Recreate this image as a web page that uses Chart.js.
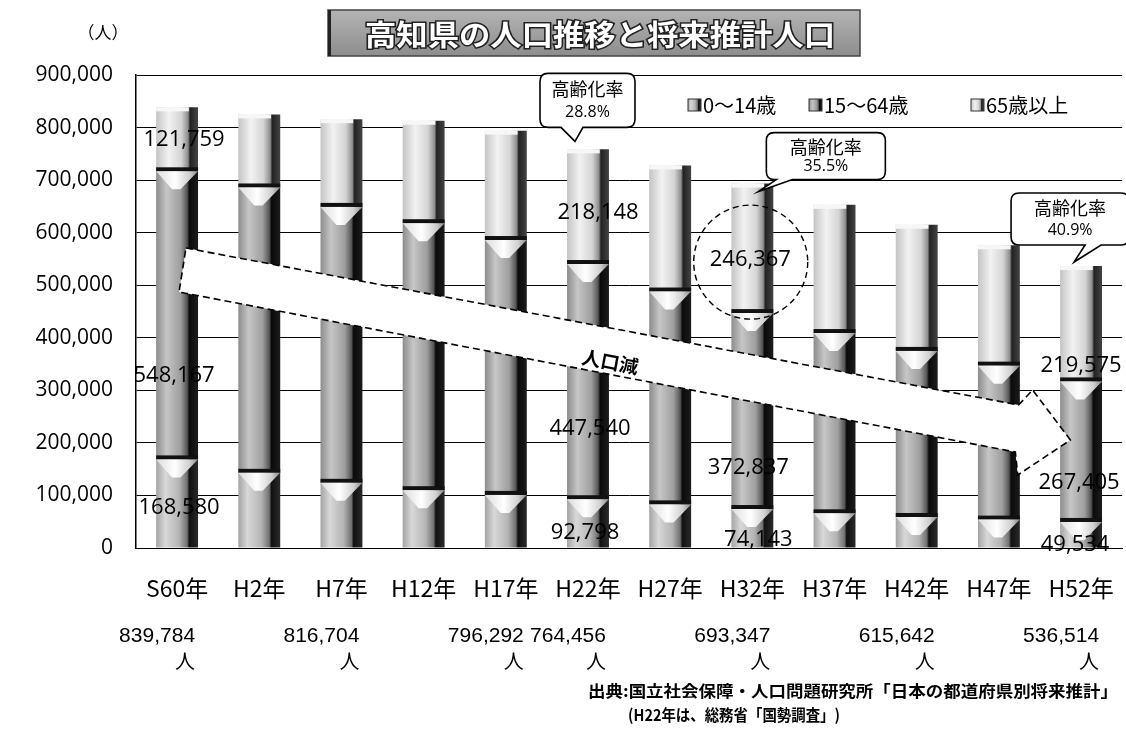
<!DOCTYPE html>
<html lang="ja">
<head>
<meta charset="utf-8">
<title>高知県の人口推移と将来推計人口</title>
<script src="https://cdn.jsdelivr.net/npm/chart.js@4.4.1/dist/chart.umd.min.js"></script>
<style>
  html, body { margin: 0; padding: 0; background: #fff; overflow: hidden; }
  #wrap { width: 1140px; height: 731px; }
</style>
</head>
<body>
<div id="wrap"><canvas id="popChart" width="1140" height="731"></canvas></div>
<script>
// categories and values (人)
const years = ['S60年', 'H2年', 'H7年', 'H12年', 'H17年', 'H22年', 'H27年', 'H32年', 'H37年', 'H42年', 'H47年', 'H52年'];
const age0to14  = [168580, 143000, 124000, 110000, 101000, 92798, 83000, 74143, 66000, 59000, 54000, 49534];
const age15to64 = [548167, 543000, 525000, 508000, 485000, 447540, 405000, 372837, 343000, 316000, 293000, 267405];
const age65plus = [121759, 139000, 167000, 195000, 208000, 218148, 240000, 246367, 244000, 240000, 229000, 219575];
const totals    = [839784, null, 816704, null, 796292, 764456, null, 693347, null, 615642, null, 536514];
const yTicks    = [0, 100000, 200000, 300000, 400000, 500000, 600000, 700000, 800000, 900000];
const seriesNames = ['0～14歳', '15～64歳', '65歳以上'];

// 高齢化率 callouts
const agingIdx  = [5, 7, 11];
const agingRate = ['28.8%', '35.5%', '40.9%'];

// bars that carry value labels
const labeledBars = [0, 5, 7, 11];

// label placement inside segments (fraction of segment height, x shift) – layout only
const labelFrac = [[0.45, 0.29, 0.5], [0.31, 0.30, 0.45], [0.2, 0.21, 0.41], [0.11, 0.28, 0.14]];
const labelDx   = [[2, -3, 7], [-3, 2, 10], [6, -4, -2], [-6, -2, 0]];

const BAR_PCT = 0.51;
const fmt = v => v.toLocaleString('en-US');

const fills = [
  [[0, '#a4a4a4'], [0.22, '#d8d8d8'], [0.55, '#b4b4b4'], [0.74, '#707070'], [0.79, '#111'], [1, '#2a2a2a']],
  [[0, '#8c8c8c'], [0.25, '#c6c6c6'], [0.58, '#9e9e9e'], [0.74, '#555'], [0.79, '#0a0a0a'], [1, '#1c1c1c']],
  [[0, '#c4c4c4'], [0.3, '#f2f2f2'], [0.6, '#d4d4d4'], [0.76, '#8e8e8e'], [0.81, '#222'], [1, '#444']]
];

function barFill(stops) {
  return function (c) {
    const chart = c.chart;
    const area = chart.chartArea;
    if (!area) return stops[2][1];
    const x = chart.scales.x.getPixelForValue(c.dataIndex);
    const w = area.width / years.length * BAR_PCT;
    const g = chart.ctx.createLinearGradient(x - w / 2, 0, x + w / 2, 0);
    stops.forEach(s => g.addColorStop(s[0], s[1]));
    return g;
  };
}

// draw left-aligned text squeezed to a given width
function fitText(ctx, text, x, y, width) {
  const w = ctx.measureText(text).width;
  ctx.save();
  ctx.textAlign = 'left';
  ctx.translate(x, y);
  ctx.scale(width / w, 1);
  ctx.fillText(text, 0, 0);
  ctx.restore();
}

function calloutPath(ctx, l, t, r, b, rad, tl, tr, tipX, tipY) {
  ctx.beginPath();
  ctx.moveTo(l + rad, t);
  ctx.lineTo(r - rad, t);
  ctx.quadraticCurveTo(r, t, r, t + rad);
  ctx.lineTo(r, b - rad);
  ctx.quadraticCurveTo(r, b, r - rad, b);
  ctx.lineTo(tr, b);
  ctx.lineTo(tipX, tipY);
  ctx.lineTo(tl, b);
  ctx.lineTo(l + rad, b);
  ctx.quadraticCurveTo(l, b, l, b - rad);
  ctx.lineTo(l, t + rad);
  ctx.quadraticCurveTo(l, t, l + rad, t);
  ctx.closePath();
}

const decor = {
  id: 'decor',
  afterDatasetsDraw(chart) {
    const ctx = chart.ctx;
    const xs = chart.scales.x, ys = chart.scales.y;
    const step = xs.getPixelForValue(1) - xs.getPixelForValue(0);
    const px = c => xs.getPixelForValue(0) + c * step;

    // cone caps between segments
    [0, 1].forEach(di => {
      chart.getDatasetMeta(di).data.forEach(bar => {
        const w = bar.width, x = bar.x, y = bar.y;
        ctx.save();
        ctx.fillStyle = '#111';
        ctx.fillRect(x - w / 2, y - 4, w, 4);
        const g = ctx.createLinearGradient(x - w / 2, 0, x + w / 2, 0);
        g.addColorStop(0, '#dcdcdc'); g.addColorStop(0.45, '#fff'); g.addColorStop(0.8, '#cfcfcf'); g.addColorStop(1, '#888');
        ctx.fillStyle = g;
        ctx.beginPath();
        ctx.moveTo(x - w / 2, y);
        ctx.lineTo(x + w / 2, y);
        ctx.lineTo(x + w * 0.08, y + 18);
        ctx.lineTo(x - w * 0.12, y + 18);
        ctx.closePath();
        ctx.fill();
        ctx.restore();
      });
    });
    // top rims
    chart.getDatasetMeta(2).data.forEach(bar => {
      const w = bar.width, x = bar.x, y = bar.y;
      ctx.save();
      ctx.fillStyle = '#f7f7f7';
      ctx.fillRect(x - w / 2, y, w * 0.78, 4);
      ctx.restore();
    });

    // 人口減 arrow
    const arrow = [[0.108, 570800], [10.24, 272100], [10.41, 300600], [10.87, 205500],
                   [10.23, 138900], [10.20, 182600], [0.024, 487100]];
    ctx.save();
    ctx.beginPath();
    arrow.forEach((p, i) => {
      const X = px(p[0]), Y = ys.getPixelForValue(p[1]);
      if (i === 0) ctx.moveTo(X, Y); else ctx.lineTo(X, Y);
    });
    ctx.closePath();
    ctx.fillStyle = '#fff';
    ctx.fill();
    ctx.setLineDash([7, 4]);
    ctx.lineWidth = 1.6;
    ctx.strokeStyle = '#000';
    ctx.stroke();
    ctx.restore();

    ctx.save();
    ctx.translate(px(5.27), ys.getPixelForValue(353900));
    ctx.rotate(10.6 * Math.PI / 180);
    ctx.font = 'bold 19px "Noto Sans CJK JP"';
    ctx.fillStyle = '#000';
    ctx.textAlign = 'center';
    ctx.textBaseline = 'middle';
    ctx.fillText('人口減', 0, 0);
    ctx.restore();

    // value labels
    ctx.save();
    ctx.font = '22px "Open Sans"';
    ctx.fillStyle = '#000';
    ctx.textAlign = 'center';
    ctx.textBaseline = 'middle';
    const series = [age0to14, age15to64, age65plus];
    labeledBars.forEach((idx, k) => {
      let base = 0;
      series.forEach((s, si) => {
        const v = s[idx];
        const y = ys.getPixelForValue(base + v * labelFrac[k][si]);
        ctx.fillText(fmt(v), xs.getPixelForValue(idx) + labelDx[k][si], y);
        base += v;
      });
    });
    ctx.restore();

    // dashed circle around H32 65+
    ctx.save();
    ctx.beginPath();
    ctx.arc(px(6.98), ys.getPixelForValue(544000), 57, 0, Math.PI * 2);
    ctx.setLineDash([6, 4]);
    ctx.lineWidth = 1.4;
    ctx.strokeStyle = '#000';
    ctx.stroke();
    ctx.restore();

    // 高齢化率 callouts
    const boxes = [
      { l: -48, r: 47, t: -76, b: -22, tl: -27, tr: -5, tx: -13, ty: -8 },
      { l: 14, r: 133, t: -51, b: -4, tl: 24, tr: 40, tx: 6, ty: 8 },
      { l: -70, r: 48, t: -73, b: -21, tl: 4, tr: 20, tx: -7, ty: -4 }
    ];
    agingIdx.forEach((idx, k) => {
      const bx = xs.getPixelForValue(idx);
      const top = ys.getPixelForValue(age0to14[idx] + age15to64[idx] + age65plus[idx]);
      const o = boxes[k];
      ctx.save();
      calloutPath(ctx, bx + o.l, top + o.t, bx + o.r, top + o.b, 8, bx + o.tl, bx + o.tr, bx + o.tx, top + o.ty);
      ctx.fillStyle = '#fff';
      ctx.fill();
      ctx.lineWidth = 1.6;
      ctx.strokeStyle = '#000';
      ctx.stroke();
      ctx.fillStyle = '#000';
      ctx.textAlign = 'center';
      ctx.textBaseline = 'middle';
      const cx = bx + (o.l + o.r) / 2;
      const h = o.b - o.t;
      ctx.font = '18px "Noto Sans CJK JP"';
      ctx.fillText('高齢化率', cx, top + o.t + h * 0.3);
      ctx.font = '16px "Open Sans"';
      ctx.fillText(agingRate[k], cx, top + o.t + h * 0.72);
      ctx.restore();
    });
  },
  afterDraw(chart) {
    const ctx = chart.ctx;
    const xs = chart.scales.x;

    // title
    ctx.save();
    const tg = ctx.createLinearGradient(0, 10, 0, 57);
    tg.addColorStop(0, '#b4b4b4'); tg.addColorStop(1, '#8c8c8c');
    ctx.fillStyle = tg;
    ctx.fillRect(328, 10, 532, 46);
    ctx.strokeStyle = '#444';
    ctx.lineWidth = 1.5;
    ctx.strokeRect(328, 10, 532, 46);
    ctx.fillStyle = '#222';
    ctx.fillRect(328, 10, 3, 46);
    ctx.font = 'bold 29px "Noto Sans CJK JP"';
    ctx.textBaseline = 'middle';
    ctx.textAlign = 'left';
    ctx.lineWidth = 3;
    ctx.strokeStyle = '#222';
    const title = '高知県の人口推移と将来推計人口';
    const tw = ctx.measureText(title).width;
    ctx.save();
    ctx.translate(365, 35);
    ctx.scale(470 / tw, 1);
    ctx.strokeText(title, 0, 0);
    ctx.fillStyle = '#fff';
    ctx.fillText(title, 0, 0);
    ctx.restore();
    ctx.restore();

    // unit
    ctx.save();
    ctx.font = '17px "Noto Sans CJK JP"';
    ctx.fillStyle = '#000';
    ctx.textAlign = 'center';
    ctx.textBaseline = 'middle';
    ctx.fillText('（人）', 103, 33);
    ctx.restore();

    // legend
    ctx.save();
    ctx.font = '20px "Noto Sans CJK JP"';
    ctx.fillStyle = '#000';
    ctx.textBaseline = 'middle';
    ctx.textAlign = 'left';
    const legX = [688, 809, 971];
    seriesNames.forEach((name, i) => {
      const g = ctx.createLinearGradient(legX[i], 0, legX[i] + 13, 0);
      fills[i].forEach(s => g.addColorStop(s[0], s[1]));
      ctx.fillStyle = g;
      ctx.fillRect(legX[i], 99, 13, 12);
      ctx.strokeStyle = '#333';
      ctx.lineWidth = 1;
      ctx.strokeRect(legX[i], 99, 13, 12);
      ctx.fillStyle = '#000';
      ctx.fillText(name, legX[i] + 15, 105);
    });
    ctx.restore();

    // totals below axis
    ctx.save();
    ctx.fillStyle = '#000';
    ctx.textBaseline = 'middle';
    totals.forEach((t, i) => {
      if (t === null) return;
      const x = xs.getPixelForValue(i);
      ctx.font = '20px "Liberation Sans"';
      fitText(ctx, fmt(t), x + 18 - 76, 636, 76);
      ctx.font = '20px "Noto Sans CJK JP"';
      ctx.textAlign = 'center';
      ctx.fillText('人', x + 8, 661);
    });
    ctx.restore();

    // source
    ctx.save();
    ctx.fillStyle = '#000';
    ctx.textBaseline = 'middle';
    ctx.font = 'bold 16px "Noto Sans CJK JP"';
    fitText(ctx, '出典:国立社会保障・人口問題研究所「日本の都道府県別将来推計」', 588, 691, 530);
    fitText(ctx, '(H22年は、総務省「国勢調査」)', 628, 715, 212);
    ctx.restore();
  }
};

const canvas = document.getElementById('popChart');
new Chart(canvas.getContext('2d'), {
  type: 'bar',
  data: {
    labels: years,
    datasets: [
      { label: seriesNames[0], data: age0to14, backgroundColor: barFill(fills[0]) },
      { label: seriesNames[1], data: age15to64, backgroundColor: barFill(fills[1]) },
      { label: seriesNames[2], data: age65plus, backgroundColor: barFill(fills[2]) }
    ]
  },
  options: {
    responsive: false,
    animation: false,
    layout: { padding: { top: 75, right: 7, left: 0, bottom: 0 } },
    datasets: { bar: { barPercentage: BAR_PCT, categoryPercentage: 1 } },
    plugins: { legend: { display: false }, tooltip: { enabled: false } },
    scales: {
      x: {
        stacked: true,
        grid: { display: false, drawTicks: false },
        border: { display: true, color: '#000', width: 1 },
        ticks: {
          color: '#000', padding: 26, maxRotation: 0, autoSkip: false,
          font: { family: '"Noto Sans CJK JP"', size: 23 }
        },
        afterFit(s) { s.height = 183; }
      },
      y: {
        stacked: true,
        min: 0,
        max: 900000,
        afterBuildTicks(s) { s.ticks = yTicks.map(v => ({ value: v })); },
        grid: { color: '#000', lineWidth: 1, drawTicks: false },
        border: { display: true, color: '#000', width: 1.5 },
        ticks: {
          color: '#000', padding: 23,
          font: { family: '"Open Sans"', size: 21 },
          callback: v => fmt(v)
        },
        afterFit(s) { s.width = 136; }
      }
    }
  },
  plugins: [decor]
});
</script>
</body>
</html>
